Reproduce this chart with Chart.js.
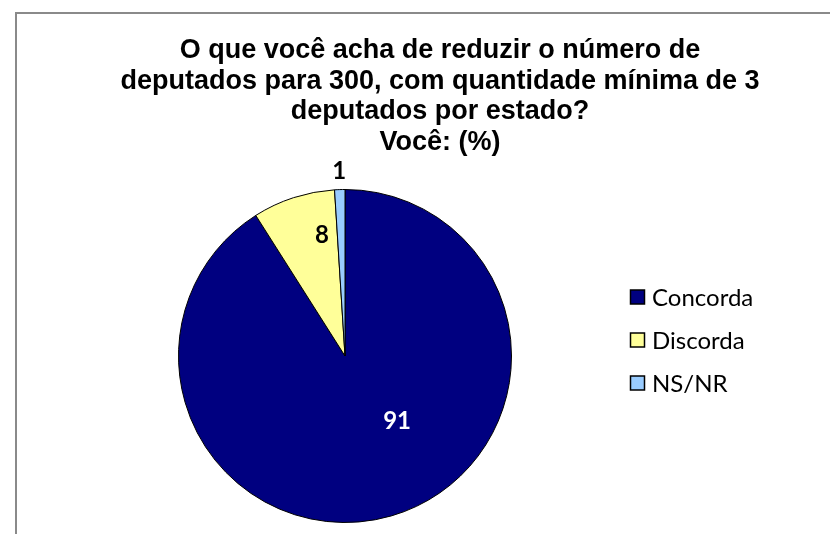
<!DOCTYPE html>
<html><head><meta charset="utf-8">
<script src="https://cdn.jsdelivr.net/npm/chart.js@4"></script>
<style>html,body{margin:0;padding:0;background:#fff}#wrap{width:830px;height:534px;position:relative}</style>
</head><body><div id="wrap"><canvas id="c" width="830" height="534"></canvas></div>
<script>
const titleLines = ["O que você acha de reduzir o número de", "deputados para 300, com quantidade mínima de 3", "deputados por estado?", "Você: (%)"];
const categories = ["Concorda", "Discorda", "NS/NR"];
const values = [91, 8, 1];
const colors = ["#000080", "#FFFF99", "#99CCFF"];
const labelColors = ["#FFFFFF", "#000000", "#000000"];
const labelRadius = [0.5, 0.74, 1.11];
const labelAngleShift = [-22.5, 7.2, 0];

const overlay = {
  id: 'overlay',
  afterDraw(chart) {
    const ctx = chart.ctx;
    ctx.save();
    // frame
    ctx.strokeStyle = '#8a8a8a'; ctx.lineWidth = 2;
    ctx.beginPath(); ctx.moveTo(16, 534); ctx.lineTo(16, 13); ctx.lineTo(830, 13); ctx.stroke();
    // title
    ctx.fillStyle = '#000'; ctx.textAlign = 'center'; ctx.textBaseline = 'alphabetic';
    ctx.font = 'bold 27px "Liberation Sans", Arial, sans-serif';
    titleLines.forEach((t, i) => ctx.fillText(t, 440, 58 + i * 30.5));
    // data labels
    const meta = chart.getDatasetMeta(0);
    ctx.font = 'bold 24px Lato, sans-serif'; ctx.textBaseline = 'middle';
    meta.data.forEach((arc, i) => {
      const p = arc.getProps(['x', 'y', 'startAngle', 'endAngle', 'outerRadius'], true);
      const a = (p.startAngle + p.endAngle) / 2 + labelAngleShift[i] * Math.PI / 180;
      const r = p.outerRadius * labelRadius[i];
      ctx.fillStyle = labelColors[i];
      ctx.fillText(String(values[i]), p.x + r * Math.cos(a), p.y + r * Math.sin(a));
    });
    // legend
    ctx.font = '24px Lato, sans-serif'; ctx.textAlign = 'left';
    categories.forEach((c, i) => {
      const y = 297.5 + i * 43;
      ctx.fillStyle = colors[i]; ctx.fillRect(630.5, y - 7.5, 14, 14);
      ctx.strokeStyle = '#000'; ctx.lineWidth = 1.5; ctx.strokeRect(630.5, y - 7.5, 14, 14);
      ctx.fillStyle = '#000'; ctx.fillText(c, 652, y + 1);
    });
    ctx.restore();
  }
};

new Chart(document.getElementById('c'), {
  type: 'pie',
  data: { labels: categories, datasets: [{ data: values, backgroundColor: colors, borderColor: '#000', borderWidth: 1 }] },
  options: {
    responsive: false, animation: false,
    layout: { padding: { left: 178, right: 318, top: 189, bottom: 11 } },
    plugins: { legend: { display: false }, title: { display: false }, tooltip: { enabled: false } }
  },
  plugins: [overlay]
});
</script></body></html>
